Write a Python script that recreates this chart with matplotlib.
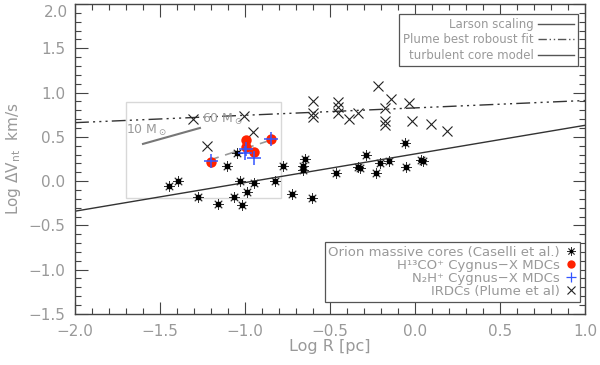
import numpy as np
import matplotlib
matplotlib.use("Agg")
import matplotlib.pyplot as plt
from matplotlib.lines import Line2D

# Orion massive cores (Caselli et al.)
orion_logr = [-1.447, -1.396, -1.276, -1.157, -1.103, -1.047, -1.063, -1.032, -1.018,
              -0.990, -0.947, -0.821, -0.776, -0.721, -0.606, -0.647, -0.661, -0.661,
              -0.462, -0.334, -0.326, -0.288, -0.229, -0.206, -0.151, -0.059, -0.050, 0.047, 0.035]
orion_logv = [-0.056, 0.000, -0.184, -0.260, 0.169, 0.322, -0.177, 0.006, -0.265,
              -0.124, -0.019, 0.000, 0.169, -0.141, -0.186, 0.254, 0.169, 0.130,
              0.094, 0.158, 0.150, 0.293, 0.094, 0.203, 0.229, 0.435, 0.158, 0.229, 0.240]

# IRDCs (Plume et al)
irdc_logr = [-1.306, -1.008, -0.955, -1.222, -0.600, -0.598, -0.598, -0.451, -0.451,
             -0.451, -0.388, -0.338, -0.216, -0.142, -0.178, -0.176, -0.176, -0.034,
             -0.016, 0.092, 0.186]
irdc_logv = [0.696, 0.730, 0.550, 0.398, 0.906, 0.771, 0.726, 0.895, 0.839,
             0.771, 0.696, 0.773, 1.072, 0.922, 0.827, 0.681, 0.632, 0.877,
             0.681, 0.643, 0.564]

# Cygnus-X MDCs
h13co_logr = [-1.200, -0.996, -0.996, -0.947, -0.849]
h13co_logv = [0.211, 0.463, 0.384, 0.327, 0.474]
n2h_logr = [-1.200, -0.996, -1.000, -0.947, -0.849]
n2h_logv = [0.229, 0.358, 0.313, 0.256, 0.474]

# fitted relations
larson_x = [-2.0, 1.0]
larson_y = [-0.34, 0.63]
plume_x = [-2.0, 1.0]
plume_y = [0.66, 0.91]
core10_x = [-1.60, -1.265]
core10_y = [0.42, 0.60]
core60_x = [-1.22, -0.853]
core60_y = [0.23, 0.46]

grey = "#999999"
axcol = "#444444"
plt.rcParams["font.family"] = "DejaVu Sans"

fig = plt.figure(figsize=(6.0, 3.65), dpi=100)
ax = fig.add_axes([0.125, 0.140, 0.85, 0.849])

dashdotdot = (0, (10, 3, 1.5, 3, 1.5, 3, 1.5, 3))
ax.plot(larson_x, larson_y, color="#333333", lw=1.0)
ax.plot(plume_x, plume_y, color="#333333", lw=1.0, ls=dashdotdot)
ax.plot(core10_x, core10_y, color="#777777", lw=1.5)
ax.plot(core60_x, core60_y, color="#999999", lw=1.2, ls=(0, (7, 4)))
ax.text(-1.70, 0.53, r"10 M$_\odot$", color=grey, fontsize=9)
ax.text(-1.25, 0.66, r"60 M$_\odot$", color=grey, fontsize=9)
ax.add_patch(plt.Rectangle((-1.70, -0.19), 0.91, 1.08, fill=False,
                           ec="#d8d8d8", lw=1.0))

ax.plot(irdc_logr, irdc_logv, ls="none", marker="x", ms=7, mew=0.8, color="#222222")
ax.plot(orion_logr, orion_logv, ls="none", marker=(8, 2, 0), ms=7.5, mew=0.6, color="#333333")
ax.plot(orion_logr, orion_logv, ls="none", marker="s", ms=2.4, color="black")
ax.plot(h13co_logr, h13co_logv, ls="none", marker="o", ms=7.5, color="#ff2200", mec="none")
ax.plot(n2h_logr, n2h_logv, ls="none", marker="+", ms=10, mew=1.1, color="#3355ff")

ax.set_xlim(-2.0, 1.0)
ax.set_ylim(-1.5, 2.0)
ax.set_xticks(np.arange(-2.0, 1.01, 0.5))
ax.set_yticks(np.arange(-1.5, 2.01, 0.5))
ax.set_xticks(np.arange(-2.0, 1.01, 0.1), minor=True)
ax.set_yticks(np.arange(-1.5, 2.01, 0.1), minor=True)
ax.xaxis.set_major_formatter(lambda v, p: f"{v:.1f}".replace("-", "\u2212"))
# top label is placed by hand so it is not clipped at the figure edge
ax.yaxis.set_major_formatter(lambda v, p: "" if v > 1.99 else f"{v:.1f}".replace("-", "\u2212"))
ax.tick_params(which="both", direction="in", top=True, right=True,
               colors=axcol, labelcolor=grey, labelsize=11, width=0.8)
ax.tick_params(which="major", length=9, pad=7)
ax.tick_params(which="minor", length=4.5)
for s in ax.spines.values():
    s.set_color(axcol)
    s.set_linewidth(1.0)
ax.annotate("2.0", xy=(0, 1), xycoords="axes fraction", xytext=(-7, -1),
            textcoords="offset pixels", ha="right", va="top", color=grey, fontsize=11)

ax.set_xlabel("Log R [pc]", color=grey, fontsize=11.5, labelpad=0)
ax.set_ylabel(r"Log $\Delta$V$_{\rm nt}$  km/s", color=grey, fontsize=11, labelpad=4)

line_handles = [Line2D([], [], color="#555555", lw=1.0),
                Line2D([], [], color="#555555", lw=1.0, ls=(0, (6, 2, 1, 2, 1, 2))),
                Line2D([], [], color="#555555", lw=1.0)]
leg1 = ax.legend(line_handles, ["Larson scaling", "Plume best roboust fit", "turbulent core model"],
                 loc="upper right", bbox_to_anchor=(0.986, 0.968), borderaxespad=0,
                 markerfirst=False,
                 fontsize=8.5, labelspacing=0.2, handlelength=3.0, handletextpad=0.4,
                 borderpad=0.35, fancybox=False, edgecolor="#555555", framealpha=1,
                 labelcolor=grey)
leg1.get_frame().set_linewidth(0.9)
ax.add_artist(leg1)

ast = (Line2D([], [], ls="none", marker=(8, 2, 0), ms=6, mew=0.6, color="#333333"),
       Line2D([], [], ls="none", marker="s", ms=2, color="black"))
pt_handles = [ast,
              Line2D([], [], ls="none", marker="o", ms=6, color="#ff2200", mec="none"),
              Line2D([], [], ls="none", marker="+", ms=7, mew=0.9, color="#3355ff"),
              Line2D([], [], ls="none", marker="x", ms=6, mew=0.8, color="#222222")]
leg2 = ax.legend(pt_handles, ["Orion massive cores (Caselli et al.)",
                              "H\u00b9\u00b3CO\u207a Cygnus\u2212X MDCs",
                              "N\u2082H\u207a Cygnus\u2212X MDCs",
                              "IRDCs (Plume et al)"],
                 loc="lower right", bbox_to_anchor=(0.990, 0.039), borderaxespad=0,
                 markerfirst=False,
                 fontsize=9.5, labelspacing=0.0, handlelength=0.8, handletextpad=0.4,
                 borderpad=0.3, fancybox=False, edgecolor="#555555", framealpha=1,
                 labelcolor=grey)
leg2.get_frame().set_linewidth(0.9)

fig.savefig("out.png", dpi=100)
